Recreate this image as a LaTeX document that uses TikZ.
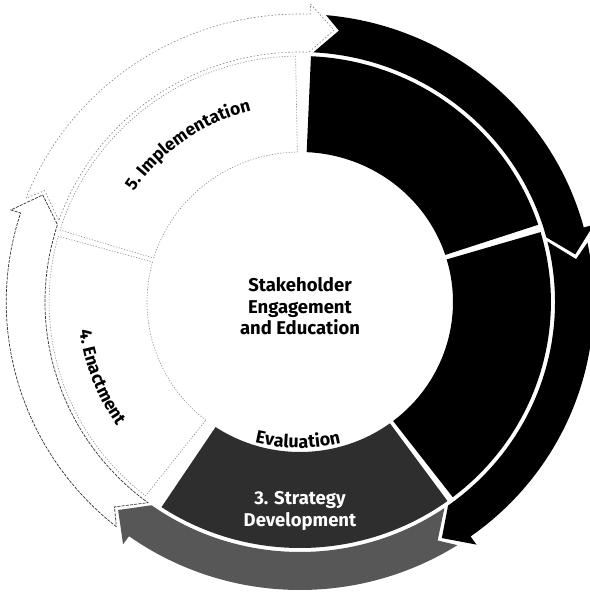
\documentclass[tikz,border=0pt]{standalone}
\usepackage{fontspec}
\newfontfamily\dfont{Fira Sans}
\usetikzlibrary{decorations.text}
\begin{document}
\begin{tikzpicture}[
  blacksec/.style={fill=black},
  graysec/.style={fill=black!82},
  grayarrow/.style={fill=black!66},
  whitesec/.style={fill=white, draw=black!45, line width=0.6pt, dash pattern=on 1.2pt off 1.6pt},
  whitearrow/.style={fill=white, draw=black!80, line width=0.7pt, dash pattern=on 3pt off 1.2pt},
  lbl/.style={font=\dfont\bfseries\fontsize{18.5}{21.5}\selectfont, align=center}
]
\useasboundingbox (0,0) rectangle (589pt,-594pt);
\fill[white] (0,0) rectangle (589pt,-594pt);

\begin{scope}[shift={(300pt,-302pt)}, xscale=1.02]
  % inner segments
  \path[blacksec] (87.5:150pt) arc[start angle=87.5, end angle=18.3, radius=150pt]
     -- (18.3:246pt) arc[start angle=18.3, end angle=87.5, radius=246pt] -- cycle;
  \path[blacksec] (16.5:150pt) arc[start angle=16.5, end angle=-52.5, radius=150pt]
     -- (-52.5:246pt) arc[start angle=-52.5, end angle=16.5, radius=246pt] -- cycle;
  \path[graysec] (-54:150pt) arc[start angle=-54, end angle=-123.5, radius=150pt]
     -- (-123.5:246pt) arc[start angle=-123.5, end angle=-54, radius=246pt] -- cycle;
  \path[whitesec] (232:150pt) arc[start angle=232, end angle=164.5, radius=150pt]
     -- (164.5:246pt) arc[start angle=164.5, end angle=232, radius=246pt] -- cycle;
  \path[whitesec] (163:150pt) arc[start angle=163, end angle=91, radius=150pt]
     -- (91:246pt) arc[start angle=91, end angle=163, radius=246pt] -- cycle;

  % outer arrows
  \path[blacksec] (84.9:288pt) arc[start angle=84.9, end angle=15, radius=288pt]
     -- (15:298pt) -- (10:274pt) -- (15:250pt)
     arc[start angle=15, end angle=87, radius=250pt] -- (82:274pt) -- cycle;
  \path[blacksec] (11.9:288pt) arc[start angle=11.9, end angle=-54.5, radius=288pt]
     -- (-54.5:298pt) -- (-59.5:274pt) -- (-54.5:250pt)
     arc[start angle=-54.5, end angle=14, radius=250pt] -- (9:274pt) -- cycle;
  \path[grayarrow] (-57.6:288pt) arc[start angle=-57.6, end angle=-125.6, radius=288pt]
     -- (-125.6:298pt) -- (-130.6:274pt) -- (-125.6:250pt)
     arc[start angle=-125.6, end angle=-55.5, radius=250pt] -- (-60.5:274pt) -- cycle;
  \path[whitearrow] (231.3:288pt) arc[start angle=231.3, end angle=162, radius=288pt]
     -- (162:298pt) -- (157:274pt) -- (162:250pt)
     arc[start angle=162, end angle=233.4, radius=250pt] -- (228.4:274pt) -- cycle;
  \path[whitearrow, draw=black!50, line width=0.6pt, dash pattern=on 1.5pt off 2pt] (158.9:288pt) arc[start angle=158.9, end angle=88, radius=288pt]
     -- (88:298pt) -- (83:274pt) -- (88:250pt)
     arc[start angle=88, end angle=161, radius=250pt] -- (156:274pt) -- cycle;

  % curved labels
  \path[decorate, decoration={text along path, text align=center,
     text={|\dfont\bfseries\fontsize{17.5}{17.5}\selectfont|5. Implementation}}]
     (150:197pt) arc[start angle=150, end angle=100, radius=197pt];
  \path[decorate, decoration={text along path, text align=center,
     text={|\dfont\bfseries\fontsize{17.5}{17.5}\selectfont|4. Enactment}}]
     (178:218pt) arc[start angle=178, end angle=224, radius=218pt];
\end{scope}

\begin{scope}[shift={(298pt,-263pt)}]
  \path[decorate, decoration={text along path, text align=center,
     text={|\dfont\bfseries\fontsize{18}{18}\selectfont|Evaluation}}]
     (248:185pt) arc[start angle=248, end angle=292, radius=185pt];
\end{scope}

\node[lbl] (centre) at (300pt,-306.5pt) {Stakeholder\\Engagement\\and Education};
\node[lbl, text=white] (strategy) at (300pt,-511pt) {3. Strategy\\Development};
\end{tikzpicture}
\end{document}
